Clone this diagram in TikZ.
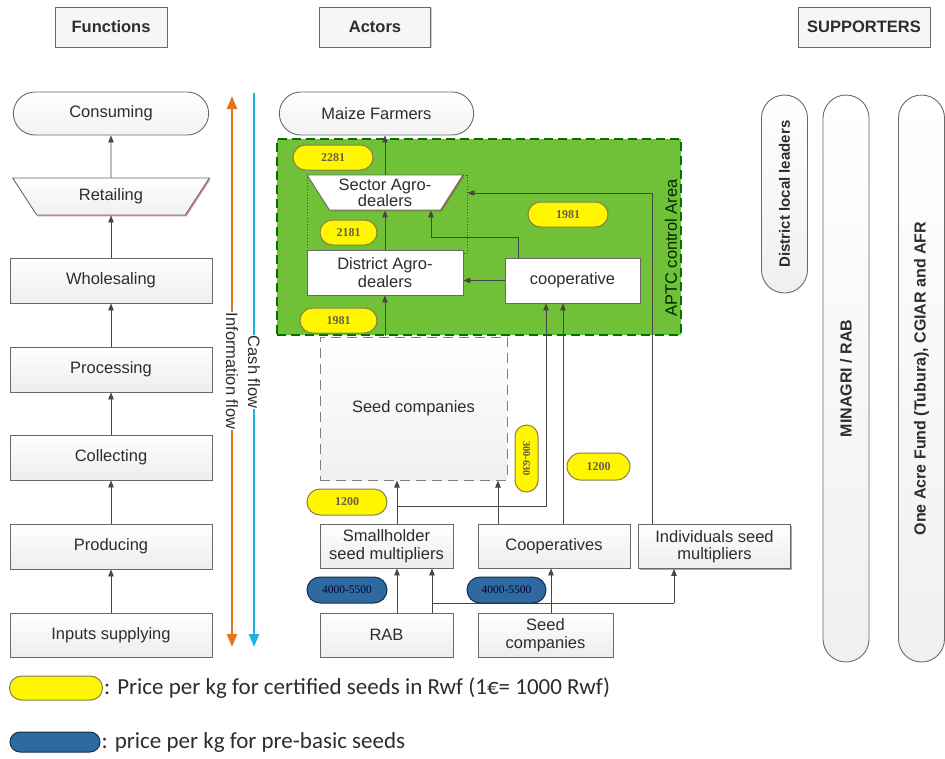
\documentclass[tikz,border=0pt]{standalone}
\usepackage{fontspec}
\setmainfont{Liberation Sans}
\newfontfamily\legendfont{Carlito}
\newfontfamily\pricefont{Liberation Serif}
\usetikzlibrary{positioning, calc, shapes.geometric, shapes.misc, arrows.meta, shadows}
\definecolor{aptcgreen}{RGB}{112,192,56}
\definecolor{pillyellow}{RGB}{255,246,0}
\definecolor{pillblue}{RGB}{46,106,160}
\definecolor{infoorange}{RGB}{226,118,30}
\definecolor{cashcyan}{RGB}{30,178,226}
\definecolor{linegray}{RGB}{70,70,70}
\definecolor{boxgray}{RGB}{105,105,105}
\definecolor{txtgray}{RGB}{45,45,45}

\begin{document}
\begin{tikzpicture}[x=1pt, y=-1pt,
        txt/.style={font=\fontsize{16.5}{17.5}\selectfont, text=txtgray},
        box/.style={rectangle, draw=boxgray, line width=0.9pt, align=center, inner sep=2pt, txt,
            drop shadow={shadow xshift=1.3pt, shadow yshift=-1.3pt, fill=red!55!gray, opacity=0.55}},
        shadedbox/.style={box, top color=white, bottom color=gray!14},
        whitebox/.style={box, fill=white},
        fbox/.style={shadedbox, minimum width=202, minimum height=45},
        capsule/.style={rounded rectangle, draw=boxgray, line width=0.9pt, top color=white, bottom color=gray!10, txt},
        trap/.style={trapezium, shape border rotate=180, trapezium stretches=true, trapezium angle=56,
            draw=boxgray, line width=0.9pt, align=center, inner sep=0pt, txt},
        header/.style={rectangle, draw=boxgray, line width=0.9pt, fill=gray!7, minimum height=40,
            font=\bfseries\fontsize{16.5}{18}\selectfont, text=txtgray,
            drop shadow={shadow xshift=1.2pt, shadow yshift=-1.2pt, fill=gray!60, opacity=0.6}},
        supporter/.style={rounded rectangle, rotate=90, minimum height=46, inner sep=0pt, draw=boxgray,
            line width=0.9pt, top color=white, bottom color=gray!12, font=\bfseries\fontsize{16}{17}\selectfont, text=txtgray},
        yellowpill/.style={rounded rectangle, draw=black!55!yellow, line width=1pt, fill=pillyellow, inner sep=0pt,
            minimum width=80, minimum height=25, font=\pricefont\bfseries\fontsize{12}{12}\selectfont, text=black!70!yellow},
        bluepill/.style={rounded rectangle, draw=black!55!pillblue, line width=1pt, fill=pillblue, inner sep=0pt,
            minimum width=80, minimum height=26, font=\pricefont\fontsize{11.5}{12}\selectfont, text=black!80!blue},
        arrow/.style={-{Triangle[length=7pt,width=5.5pt]}, draw=linegray, line width=0.9pt},
        flowlabel/.style={rotate=-90, fill=white, inner sep=1pt, txt},
        legend/.style={font=\legendfont\fontsize{23}{25}\selectfont, text=txtgray, inner sep=1pt}
    ]
        \useasboundingbox (0,0) rectangle (945,758);

        % Headers
        \node[header, minimum width=112] (hfun) at (111,27) {Functions};
        \node[header, minimum width=111] (hact) at (375,27) {Actors};
        \node[header, minimum width=132] (hsup) at (864,27) {SUPPORTERS};

        % Functions
        \node[capsule, minimum width=202, minimum height=43] (consume) at (111,113.5) {Consuming};
        \node[trap, top color=white, bottom color=gray!12, minimum width=198, minimum height=37,
            drop shadow={shadow xshift=1.3pt, shadow yshift=-1.3pt, fill=red!55!gray, opacity=0.55}] (retail) at (111,196.5) {Retailing};
        \node[fbox] (whole) at (111,280.5) {Wholesaling};
        \node[fbox] (process) at (111,369.5) {Processing};
        \node[fbox] (collect) at (111,457.5) {Collecting};
        \node[fbox] (produce) at (111,546.5) {Producing};
        \node[fbox, minimum height=44] (inputs) at (111,635) {Inputs supplying};

        \draw[arrow] (inputs) -- (produce);
        \draw[arrow] (produce) -- (collect);
        \draw[arrow] (collect) -- (process);
        \draw[arrow] (process) -- (whole);
        \draw[arrow] (whole) -- (retail);
        \draw[arrow] (retail) -- (consume);

        % Flows
        \coordinate (infotop) at (232,96);
        \coordinate (infobot) at (232,647);
        \coordinate (cashtop) at (254,93);
        \coordinate (cashbot) at (254,647);
        \draw[draw=infoorange, line width=2.6pt, {Triangle[length=13pt,width=10pt]}-{Triangle[length=13pt,width=10pt]}] (infobot) -- (infotop);
        \draw[draw=cashcyan, line width=2.4pt, -{Triangle[length=13pt,width=10pt]}] (cashtop) -- (cashbot);
        \node[flowlabel] (infolab) at (232,371) {Information flow};
        \node[flowlabel] (cashlab) at (254,372) {Cash flow};

        % Actors
        \node[capsule, minimum width=201, minimum height=43] (farmers) at (376.5,113.5) {Maize Farmers};
        \node[rectangle, fill=aptcgreen, draw=black!55!green, line width=1.3pt, dash pattern=on 9pt off 5pt,
            minimum width=404, minimum height=196] (aptc) at (479,237) {};
        \node[txt, rotate=90, text=black!85!green] (aptclab) at (671,248) {APTC control Area};
        \node[rectangle, draw=black!70, line width=0.9pt, dotted, minimum width=160, minimum height=78] (dotbox) at (387,214) {};
        \node[trap, fill=white, minimum width=156, minimum height=35, font=\fontsize{16.5}{16}\selectfont,
            drop shadow={shadow xshift=1.3pt, shadow yshift=-1.3pt, fill=brown!70!black, opacity=0.6}] (sector) at (385,192.5) {Sector Agro-\\dealers};
        \node[whitebox, minimum width=156, minimum height=45,
            drop shadow={shadow xshift=1.3pt, shadow yshift=-1.3pt, fill=brown!70!black, opacity=0.6}] (district) at (385,272.5) {District Agro-\\dealers};
        \node[whitebox, minimum width=135, minimum height=45,
            drop shadow={shadow xshift=1.3pt, shadow yshift=-1.3pt, fill=brown!70!black, opacity=0.6}] (coop) at (572.5,280.5) {cooperative};

        \node[rectangle, draw=gray, line width=1pt, dash pattern=on 10pt off 6pt, top color=white, bottom color=gray!12,
            minimum width=187, minimum height=143, txt] (seedco) at (413.5,408.5) {Seed companies};

        \node[shadedbox, minimum width=133, minimum height=44] (small) at (386.5,546) {Smallholder\\seed multipliers};
        \node[shadedbox, minimum width=152, minimum height=44] (coops) at (554,546) {Cooperatives};
        \node[shadedbox, minimum width=152, minimum height=44] (indiv) at (714.5,546.5) {Individuals seed\\multipliers};
        \node[shadedbox, minimum width=133, minimum height=44] (rab) at (386.5,635) {RAB};
        \node[shadedbox, minimum width=135, minimum height=44] (seedco2) at (545.5,635) {Seed\\companies};

        % Arrows in the APTC area
        \draw[arrow] (district.south |- aptc.south) -- (district.south);
        \draw[arrow] (district) -- (sector);
        \draw[arrow] (sector.north) -- (sector.north |- farmers.south);
        \draw[arrow] (coop.west) -- (coop.west -| district.east);
        \coordinate (cbend1) at (518,237);
        \coordinate (cbend2) at (431,237);
        \draw[arrow] (coop.north -| cbend1) -- (cbend1) -- (cbend2) -- (cbend2 |- sector.south);
        \coordinate (ibend) at (652,193);
        \draw[arrow] (indiv.north -| ibend) -- (ibend) -- (ibend -| dotbox.east);

        % Arrows from seed multipliers
        \coordinate (sbend1) at (397,506);
        \coordinate (sbend2) at (546,506);
        \draw[arrow] (small.north -| sbend1) -- (sbend1 |- seedco.south);
        \draw[arrow] (sbend1) -- (sbend2) -- (sbend2 |- coop.south);
        \coordinate (cseed) at (498,500);
        \coordinate (ccoop) at (563,500);
        \draw[arrow] (coops.north -| cseed) -- (cseed |- seedco.south);
        \draw[arrow] (coops.north -| ccoop) -- (ccoop |- coop.south);

        % Arrows from breeders
        \coordinate (rbend1) at (432,603);
        \coordinate (rbend2) at (674,603);
        \coordinate (sdx) at (551,600);
        \draw[arrow] (rab.north -| sbend1) -- (sbend1 |- small.south);
        \draw[arrow] (rab.north -| rbend1) -- (rbend1 |- small.south);
        \draw[arrow, -] (rbend1) -- (rbend2);
        \draw[arrow] (rbend2) -- (rbend2 |- indiv.south);
        \draw[arrow] (seedco2.north -| sdx) -- (sdx |- coops.south);

        % Prices
        \node[yellowpill] (p2281) at (333,157.5) {2281};
        \node[yellowpill, minimum width=57] (p2181) at (348.5,232.5) {2181};
        \node[yellowpill, minimum width=77] (p1981a) at (338.5,320.5) {1981};
        \node[yellowpill] (p1981b) at (568,214.5) {1981};
        \node[yellowpill, rotate=-90, minimum width=67, minimum height=23,
            font=\pricefont\bfseries\fontsize{10.5}{11}\selectfont] (p300) at (526.5,458.5) {300-630};
        \node[yellowpill, minimum width=63, minimum height=27] (p1200b) at (598.5,466.5) {1200};
        \node[yellowpill, minimum height=26] (p1200a) at (347,502) {1200};
        \node[bluepill] (p4000a) at (347,590) {4000-5500};
        \node[bluepill, minimum width=79] (p4000b) at (506.5,590) {4000-5500};

        % Supporters
        \node[supporter, minimum width=198, font=\bfseries\fontsize{15}{16}\selectfont] (leaders) at (784.5,194) {District local leaders};
        \node[supporter, minimum width=567] (minagri) at (846,378.5) {MINAGRI / RAB};
        \node[supporter, minimum width=567] (oaf) at (921.5,378.5) {One Acre Fund (Tubura), CGIAR and AFR};

        % Legend
        \node[yellowpill, minimum width=93, minimum height=24] (legy) at (56,688) {};
        \node[legend, right=0pt of legy] (legytext) {: Price per kg for certified seeds in Rwf (1€= 1000 Rwf)};
        \node[bluepill, minimum width=90, minimum height=20] (legb) at (55,742) {};
        \node[legend, right=0pt of legb] (legbtext) {: price per kg for pre-basic seeds};
    \end{tikzpicture}
\end{document}
